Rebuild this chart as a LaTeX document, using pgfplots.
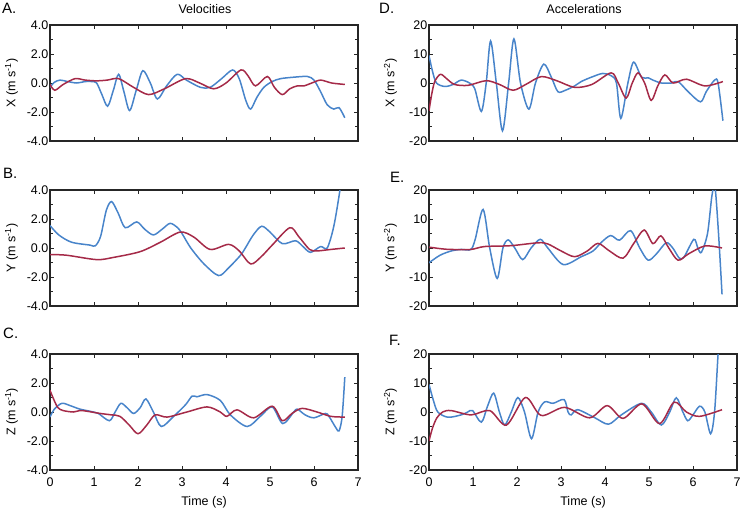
\documentclass[border=0pt]{standalone}
\usepackage{fontspec}
\setmainfont{Liberation Sans}
\usepackage{pgfplots}
\pgfplotsset{compat=1.18}
\definecolor{vblue}{RGB}{72,132,202}
\definecolor{vred}{RGB}{165,42,72}
\pgfplotsset{
  panel/.style={
    scale only axis, width=308pt, height=116pt,
    xmin=0, xmax=7, xtick={0,...,7},
    tick align=inside, major tick length=4pt, minor tick length=2.5pt,
    axis line style={line width=1.3pt, black!85},
    tick style={black!85, line width=0.8pt},
    font=\fontsize{12.5}{15}\selectfont,
    ticklabel style={font=\fontsize{12.5}{15}\selectfont},
    /pgf/number format/assume math mode=true,
    yticklabel style={inner xsep=1.5pt},
    xticklabel style={yshift=-4pt},
    ylabel style={at={(axis description cs:-0.125,0.5)}, anchor=center},
    xlabel style={at={(axis description cs:0.5,-0.28)}, anchor=center},
    every axis plot/.append style={line width=1.5pt, smooth, no markers},
  },
  vel/.style={panel, ymin=-4, ymax=4, ytick={-4,-2,0,2,4}, minor ytick={-3,-1,1,3},
    yticklabel style={/pgf/number format/fixed, /pgf/number format/fixed zerofill,
      /pgf/number format/precision=1}},
  acc/.style={panel, ymin=-20, ymax=20, ytick={-20,-10,0,10,20}, minor ytick={-15,-5,5,15}},
  notime/.style={xticklabels={}},
}
\begin{document}
\begin{tikzpicture}
\useasboundingbox (0,0) rectangle (743pt,-509pt);

% A. velocity X
\begin{axis}[vel, notime, at={(50pt,-25pt)}, anchor=north west, ylabel={X (m s\textsuperscript{-1})}]
\addplot[vblue] coordinates {(0,-0.3)(0.1,0.05)(0.23,0.2)(0.4,0.1)(0.61,0.0)(0.8,0.1)(0.95,0.1)(1.06,0.0)(1.18,-0.8)(1.31,-1.6)(1.44,-0.5)(1.56,0.6)(1.68,-0.6)(1.81,-1.9)(1.96,-0.5)(2.11,0.85)(2.28,0.0)(2.44,-1.1)(2.65,-0.2)(2.89,0.6)(3.1,0.2)(3.42,-0.3)(3.64,-0.3)(3.9,0.3)(4.15,0.9)(4.3,0.3)(4.45,-1.2)(4.56,-1.8)(4.7,-1.0)(4.86,-0.3)(5.05,0.1)(5.24,0.3)(5.54,0.4)(5.85,0.45)(6.0,0.2)(6.15,-0.6)(6.3,-1.5)(6.45,-1.8)(6.57,-1.7)(6.7,-2.4)};
\addplot[vred] coordinates {(0,-0.1)(0.11,-0.5)(0.3,-0.1)(0.57,0.3)(0.8,0.2)(1.06,0.15)(1.3,0.2)(1.56,0.3)(1.9,-0.3)(2.24,-0.8)(2.6,-0.4)(3.08,0.3)(3.4,0.0)(3.72,-0.4)(4.0,0.0)(4.34,0.9)(4.5,0.5)(4.67,-0.2)(4.94,0.45)(5.1,-0.3)(5.28,-0.8)(5.45,-0.4)(5.62,-0.2)(5.77,-0.2)(5.95,0.0)(6.15,0.2)(6.4,0.0)(6.7,-0.1)};
\end{axis}

% B. velocity Y
\begin{axis}[vel, notime, at={(50pt,-190pt)}, anchor=north west, ylabel={Y (m s\textsuperscript{-1})}]
\addplot[vblue] coordinates {(0,1.55)(0.2,0.9)(0.49,0.4)(0.91,0.2)(1.03,0.15)(1.15,0.8)(1.28,2.6)(1.40,3.2)(1.55,2.4)(1.71,1.4)(1.97,1.8)(2.15,1.3)(2.35,0.9)(2.55,1.3)(2.73,1.7)(2.9,1.4)(3.0,1.0)(3.2,0.0)(3.5,-1.1)(3.83,-1.9)(4.05,-1.4)(4.33,-0.5)(4.44,0.0)(4.62,0.9)(4.81,1.5)(5.0,1.1)(5.28,0.3)(5.58,0.5)(5.75,0.1)(5.92,-0.3)(6.15,0.1)(6.3,0.0)(6.45,1.5)(6.59,4.0)(6.7,6.5)};
\addplot[vred] coordinates {(0,-0.45)(0.38,-0.5)(1.06,-0.8)(1.44,-0.65)(2.05,-0.25)(2.51,0.4)(2.96,1.1)(3.27,0.75)(3.64,-0.1)(4.06,0.25)(4.3,-0.2)(4.56,-1.1)(4.8,-0.6)(5.05,0.2)(5.45,1.4)(5.65,0.8)(5.9,-0.1)(6.07,-0.2)(6.38,-0.1)(6.7,0.0)};
\end{axis}

% C. velocity Z
\begin{axis}[vel, at={(50pt,-354pt)}, anchor=north west, ylabel={Z (m s\textsuperscript{-1})}, xlabel={Time (s)}]
\addplot[vblue] coordinates {(0,-0.35)(0.1,0.2)(0.27,0.6)(0.45,0.45)(0.68,0.2)(0.99,0.0)(1.1,-0.1)(1.35,-0.6)(1.48,0.0)(1.61,0.6)(1.75,0.3)(1.9,-0.1)(2.05,0.3)(2.18,0.9)(2.35,0.0)(2.53,-1.0)(2.81,-0.3)(3.08,0.5)(3.23,1.1)(3.34,1.05)(3.57,1.2)(3.87,0.8)(4.1,-0.2)(4.48,-1.0)(4.78,-0.3)(5.05,0.35)(5.29,-0.8)(5.54,0.0)(5.62,0.2)(5.8,-0.2)(6.0,-0.4)(6.26,-0.1)(6.34,-0.3)(6.5,-1.1)(6.57,-1.3)(6.64,-0.3)(6.70,2.4)};
\addplot[vred] coordinates {(0,1.5)(0.08,0.9)(0.18,0.3)(0.3,0.1)(0.53,0.0)(0.72,0.1)(1.14,-0.1)(1.40,-0.2)(1.59,-0.3)(1.8,-0.9)(2.0,-1.5)(2.2,-0.9)(2.39,-0.2)(2.66,-0.35)(3.11,0.0)(3.57,0.35)(3.87,0.0)(4.02,-0.3)(4.25,0.15)(4.63,-0.4)(5.05,0.4)(5.28,-0.6)(5.5,-0.1)(5.73,0.25)(6.07,0.0)(6.38,-0.3)(6.7,-0.35)};
\end{axis}

% D. acceleration X
\begin{axis}[acc, notime, at={(429pt,-25pt)}, anchor=north west, ylabel={X (m s\textsuperscript{-2})}]
\addplot[vblue] coordinates {(0,9.5)(0.08,4)(0.17,0)(0.36,-1.2)(0.55,-0.5)(0.73,1.0)(0.92,0)(1.04,-2)(1.19,-9.8)(1.30,0)(1.40,14.5)(1.53,0)(1.67,-16.5)(1.81,0)(1.93,15.2)(2.08,0)(2.27,-9)(2.42,0)(2.61,6.5)(2.78,2)(2.93,-3)(3.1,-2.5)(3.31,-1)(3.46,0.5)(3.69,2)(3.95,3.3)(4.14,2.5)(4.26,0)(4.36,-12.2)(4.52,0)(4.65,7.2)(4.83,2.0)(4.98,1.8)(5.09,1)(5.28,0)(5.51,0)(5.66,0.5)(5.89,-3)(6.17,-6.5)(6.30,-3)(6.49,1.0)(6.57,0)(6.68,-13)};
\addplot[vred] coordinates {(0,-9.6)(0.06,-4)(0.13,0.5)(0.26,3)(0.4,1.5)(0.58,-0.5)(0.89,-0.8)(1.30,0.8)(1.6,-0.5)(1.91,-2.5)(2.2,-0.5)(2.55,2.2)(2.9,0.8)(3.31,-1.5)(3.7,-0.5)(4.14,3.5)(4.3,0)(4.48,-5.2)(4.62,0)(4.75,3.5)(4.9,0)(5.05,-6)(5.2,-1)(5.36,2.8)(5.55,0)(5.85,1.3)(6.27,-1)(6.68,0.5)};
\end{axis}

% E. acceleration Y
\begin{axis}[acc, notime, at={(429pt,-190pt)}, anchor=north west, ylabel={Y (m s\textsuperscript{-2})}]
\addplot[vblue] coordinates {(0,-5.1)(0.25,-2.5)(0.51,-1)(0.73,-0.5)(0.95,-0.5)(1.05,3)(1.23,13.3)(1.38,0)(1.55,-10.5)(1.68,0)(1.80,2.8)(1.95,0)(2.13,-4)(2.32,0)(2.53,3.0)(2.70,0)(3.05,-5.7)(3.46,-3)(3.73,-1)(3.92,2)(4.13,4.3)(4.33,2.7)(4.58,6)(4.79,0)(4.98,-4.2)(5.17,-2)(5.39,1.8)(5.54,0)(5.69,-3.5)(5.80,-3)(6.02,3)(6.11,0)(6.19,-1.5)(6.33,5)(6.43,18)(6.50,21)(6.58,5)(6.66,-16)};
\addplot[vred] coordinates {(0,0.3)(0.3,-0.3)(0.51,-0.5)(0.95,-0.5)(1.26,0.5)(1.86,0.8)(2.48,1.8)(2.7,1.4)(3.0,-1)(3.31,-3)(3.6,-1)(3.84,1.6)(4.1,-1)(4.41,-3.5)(4.65,1.5)(4.89,6.2)(5.09,1.5)(5.27,4.2)(5.45,0)(5.66,-4.2)(5.9,-2)(6.27,0.7)(6.66,0)};
\end{axis}

% F. acceleration Z
\begin{axis}[acc, at={(429pt,-354pt)}, anchor=north west, ylabel={Z (m s\textsuperscript{-2})}, xlabel={Time (s)}]
\addplot[vblue] coordinates {(0,9.5)(0.1,4)(0.2,0)(0.43,-1.8)(0.73,-1)(0.88,0)(0.99,0.5)(1.19,-3.5)(1.33,2)(1.47,6.5)(1.60,0)(1.72,-4.5)(1.87,0)(2.02,5)(2.17,0)(2.33,-9.2)(2.48,0)(2.63,3.5)(2.82,3)(3.07,4.3)(3.16,0)(3.23,-1)(3.38,0.8)(3.77,-2)(4.08,-4.2)(4.37,-1)(4.83,3)(5.05,0)(5.28,-4.5)(5.47,0)(5.62,4.9)(5.77,0)(5.88,-3)(6.0,-1)(6.15,2)(6.27,0)(6.40,-7.5)(6.49,0)(6.57,20)(6.62,30)};
\addplot[vred] coordinates {(0,-10)(0.08,-5.5)(0.18,-2)(0.31,0)(0.5,0.5)(0.96,-1)(1.38,0.5)(1.76,-4.5)(2.19,5)(2.55,-1.2)(3.08,1.6)(3.65,-2)(4.05,2.2)(4.41,-2.2)(4.84,2.8)(5.24,-4)(5.57,3.4)(5.85,0)(6.15,-1.5)(6.66,0.8)};
\end{axis}

% titles and panel letters
\node[anchor=base, font=\fontsize{12.5}{15}\selectfont] at (205pt,-13pt) {Velocities};
\node[anchor=base, font=\fontsize{12.5}{15}\selectfont] at (584pt,-13pt) {Accelerations};
\begin{scope}[every node/.style={anchor=north west, inner sep=0pt, font=\fontsize{15}{18}\selectfont}]
\node at (2pt,-3pt) {A.};
\node at (3pt,-168pt) {B.};
\node at (3pt,-328pt) {C.};
\node at (379pt,-3pt) {D.};
\node at (390pt,-172pt) {E.};
\node at (389pt,-335pt) {F.};
\end{scope}
\end{tikzpicture}
\end{document}
